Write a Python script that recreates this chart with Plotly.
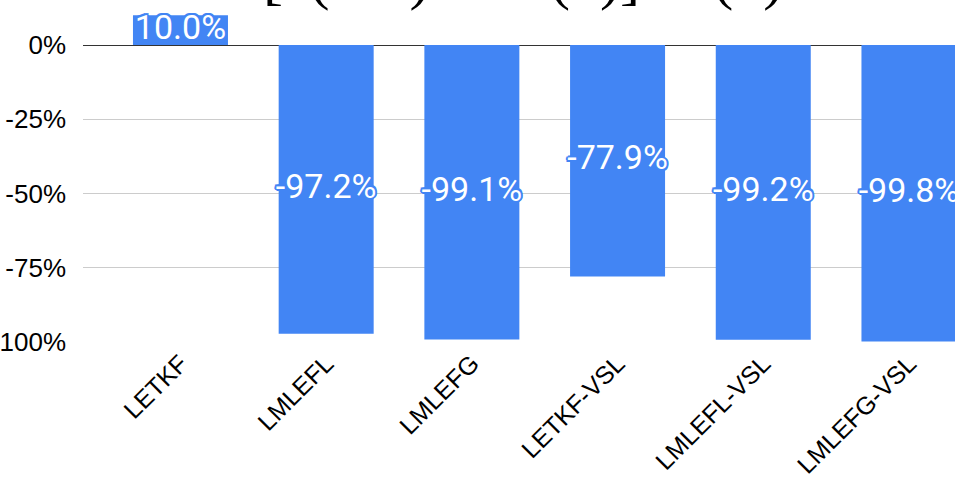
import plotly.graph_objects as go

# Relative change per assimilation method (percent)
methods = ["LETKF", "LMLEFL", "LMLEFG", "LETKF-VSL", "LMLEFL-VSL", "LMLEFG-VSL"]
change_pct = [10.0, -97.2, -99.1, -77.9, -99.2, -99.8]

# Y axis ticks
y_ticks = [0, -25, -50, -75, -100]
y_tick_text = ["0%", "-25%", "-50%", "-75%", "-100%"]

title_text = "[e(ens)\u2002\u2212\u2002e(x)] / e(x)"

BLUE = "#4285F4"
# blue halo around the white value labels
halo = ", ".join(
    f"{dx}px {dy}px 0 {BLUE}"
    for dx, dy in [(2, 0), (-2, 0), (0, 2), (0, -2), (1.5, 1.5), (-1.5, 1.5), (1.5, -1.5), (-1.5, -1.5)]
)

fig = go.Figure()
fig.add_bar(
    x=methods,
    y=change_pct,
    marker=dict(color=BLUE, line_width=0),
    hoverinfo="skip",
)
fig.add_scatter(
    x=methods,
    y=[v / 2 for v in change_pct],
    mode="text",
    text=[f"{v:.1f}%" for v in change_pct],
    textfont=dict(family="Roboto", size=34, color="white", shadow=halo),
    textposition="middle center",
    cliponaxis=False,
    hoverinfo="skip",
)

fig.update_layout(
    width=955,
    height=499,
    margin=dict(l=83, r=0, t=0, b=156),
    plot_bgcolor="white",
    paper_bgcolor="white",
    showlegend=False,
    bargap=0.348,
    xaxis=dict(
        range=[-0.669, 5.316],
        tickangle=-45,
        tickfont=dict(family="Arial, Liberation Sans", size=25, color="#000000"),
        showgrid=False,
        showline=False,
        zeroline=False,
        automargin=False,
        ticks="",
    ),
    yaxis=dict(
        range=[-100.3, 15.15],
        tickvals=y_ticks,
        ticktext=y_tick_text,
        tickfont=dict(family="Arial, Liberation Sans", size=26, color="#000000"),
        gridcolor="#cccccc",
        gridwidth=1,
        zeroline=True,
        zerolinecolor="#333333",
        zerolinewidth=1,
        showline=False,
        automargin=False,
        ticks="",
        ticklabelstandoff=16,
    ),
    annotations=[
        dict(
            text=title_text,
            xref="paper",
            yref="paper",
            x=(261 - 83) / 872,
            y=1,
            xanchor="left",
            yanchor="bottom",
            yshift=-13,
            showarrow=False,
            font=dict(family="Liberation Serif", size=60, color="#000000"),
        )
    ],
)

fig.write_html("out.html")
